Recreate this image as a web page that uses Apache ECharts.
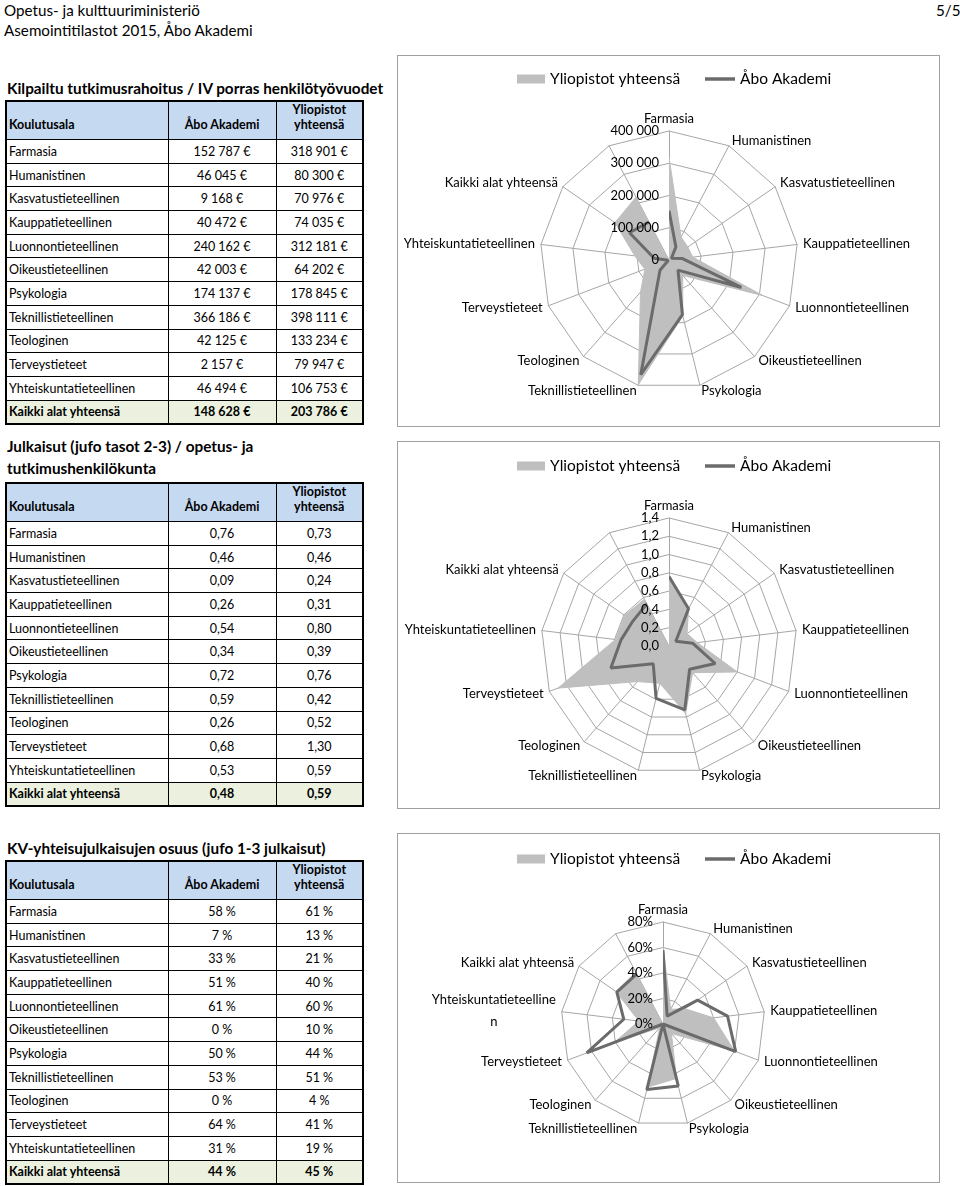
<!DOCTYPE html>
<html>
<head>
<meta charset="utf-8">
<script src="https://cdn.jsdelivr.net/npm/echarts@6/dist/echarts.min.js"></script>
<style>
  html,body{margin:0;padding:0;background:#fff;}
  body{position:relative;width:960px;height:1186px;overflow:hidden;font-family:Lato,"Open Sans",sans-serif;color:#000;}
  .hdr{position:absolute;font-size:15.2px;line-height:20px;white-space:nowrap;}
  .ttl{position:absolute;left:7px;font-size:15.3px;font-weight:bold;line-height:22px;white-space:nowrap;}
  table.t{position:absolute;left:5px;width:357px;border-collapse:collapse;table-layout:fixed;font-size:12.5px;border:2px solid #000;}
  table.t td{border:1px solid #000;padding:0 2px;white-space:nowrap;overflow:hidden;line-height:15px;}
  table.t tr.h td{background:#c5d9f1;font-weight:bold;vertical-align:bottom;padding-top:0;padding-bottom:7px;line-height:15px;}
  table.t tr.h td.c{text-align:center;}
  table.t td.n{text-align:center;}
  table.t tr.tot td{background:#ebf1de;font-weight:bold;}
  .box{position:absolute;left:397px;width:543px;border:1px solid #a0a0a0;box-sizing:border-box;}
</style>
</head>
<body>
<div class="hdr" style="left:4px;top:0px;">Opetus- ja kulttuuriministeriö</div>
<div class="hdr" style="left:4px;top:20px;">Asemointitilastot 2015, Åbo Akademi</div>
<div class="hdr" style="left:936px;top:0px;">5/5</div>

<div class="ttl" style="top:77px;">Kilpailtu tutkimusrahoitus / IV porras henkilötyövuodet</div>
<table class="t" id="t1" style="top:100px;"></table>

<div class="ttl" style="top:435px;">Julkaisut (jufo tasot 2-3) / opetus- ja<br>tutkimushenkilökunta</div>
<table class="t" id="t2" style="top:482px;"></table>

<div class="ttl" style="top:837px;">KV-yhteisujulkaisujen osuus (jufo 1-3 julkaisut)</div>
<table class="t" id="t3" style="top:860px;"></table>

<div class="box" id="c1" style="top:55px;height:372px;"></div>
<div class="box" id="c2" style="top:441px;height:368px;"></div>
<div class="box" id="c3" style="top:833px;height:350px;"></div>

<script>
// ---- Data ----
const fields = ['Farmasia','Humanistinen','Kasvatustieteellinen','Kauppatieteellinen','Luonnontieteellinen','Oikeustieteellinen','Psykologia','Teknillistieteellinen','Teologinen','Terveystieteet','Yhteiskuntatieteellinen','Kaikki alat yhteensä'];
const seriesNames = ['Yliopistot yhteensä','Åbo Akademi'];
const colHeaders = ['Koulutusala','Åbo Akademi','Yliopistot yhteensä'];

const fundingAbo = [152787,46045,9168,40472,240162,42003,174137,366186,42125,2157,46494,148628];
const fundingAll = [318901,80300,70976,74035,312181,64202,178845,398111,133234,79947,106753,203786];
const fundingTicks = [0,100000,200000,300000,400000];

const pubsAbo = [0.76,0.46,0.09,0.26,0.54,0.34,0.72,0.59,0.26,0.68,0.53,0.48];
const pubsAll = [0.73,0.46,0.24,0.31,0.80,0.39,0.76,0.42,0.52,1.30,0.59,0.59];
const pubsTicks = [0,0.2,0.4,0.6,0.8,1.0,1.2,1.4];

const intlAbo = [58,7,33,51,61,0,50,53,0,64,31,44];
const intlAll = [61,13,21,40,60,10,44,51,4,41,19,45];
const intlTicks = [0,20,40,60,80];

// ---- Formatting ----
const thou = v => String(Math.round(v)).replace(/\B(?=(\d{3})+(?!\d))/g, ' ');
const fmtEuro = v => thou(v) + ' €';
const fmtDec2 = v => v.toFixed(2).replace('.', ',');
const fmtDec1 = v => v.toFixed(1).replace('.', ',');
const fmtPct = v => v + ' %';

// ---- Tables ----
function buildTable(id, abo, all, fmt) {
  const t = document.getElementById(id);
  let h = '<colgroup><col style="width:162px"><col style="width:108px"><col style="width:87px"></colgroup>';
  h += '<tr class="h" style="height:37px"><td>' + colHeaders[0] + '</td><td class="c">' + colHeaders[1] +
       '</td><td class="c">Yliopistot<br>yhteensä</td></tr>';
  fields.forEach((f, i) => {
    const tot = i === fields.length - 1;
    h += '<tr' + (tot ? ' class="tot"' : '') + ' style="height:23.7px"><td>' + f + '</td><td class="n">' +
         fmt(abo[i]) + '</td><td class="n">' + fmt(all[i]) + '</td></tr>';
  });
  t.innerHTML = h;
}
buildTable('t1', fundingAbo, fundingAll, fmtEuro);
buildTable('t2', pubsAbo, pubsAll, fmtDec2);
buildTable('t3', intlAbo, intlAll, fmtPct);

// ---- Charts ----
const FONT = 'Lato';
const GRID = '#a6a6a6';
const FILL = '#bfbfbf';
const LINE = '#6b6b6b';

function makeChart(id, abo, all, ticks, tickFmt, cx, cy, R, legendTop, nameFmt, nameRich) {
  const el = document.getElementById(id);
  const chart = echarts.init(el, null, {renderer: 'canvas'});
  const cats = fields.concat(['']);              // blank 13th spoke as in the original
  const max = ticks[ticks.length - 1];
  const interval = ticks[1] - ticks[0];
  // radar places indicators counter-clockwise: reorder so they run clockwise
  const ordered = [cats[0]].concat(cats.slice(1).reverse());
  const indicator = ordered.map(n => ({name: n, min: 0, max: max}));
  const closed = vals => vals.map((v, i) => [v, i]).concat([[vals[0], 0]]);
  const legendText = {fontSize: 15.5, color: '#000', fontFamily: FONT};
  chart.setOption({
    animation: false,
    textStyle: {fontFamily: FONT},
    legend: [
      {left: 119, top: legendTop, padding: 0, itemWidth: 28, itemHeight: 9, textStyle: legendText,
       data: [{name: seriesNames[0], icon: 'rect'}]},
      {left: 307, top: legendTop, padding: 0, itemWidth: 30, itemHeight: 3.5, textStyle: legendText,
       data: [{name: seriesNames[1], icon: 'rect'}]}
    ],
    radar: {
      center: [cx, cy], radius: R, startAngle: 90, shape: 'polygon',
      splitNumber: ticks.length - 1, indicator: indicator, nameGap: 6,
      axisName: {color: '#000', fontSize: 13, fontFamily: FONT, formatter: nameFmt || (n => n), rich: nameRich || {}},
      axisLine: {lineStyle: {color: GRID, width: 1}},
      splitLine: {lineStyle: {color: GRID, width: 1}},
      splitArea: {show: false}, axisTick: {show: false}, axisLabel: {show: false}
    },
    polar: {center: [cx, cy], radius: R},
    angleAxis: {
      type: 'category', data: cats, startAngle: 90, clockwise: true, boundaryGap: false,
      axisLine: {show: false}, axisTick: {show: false}, axisLabel: {show: false}, splitLine: {show: false}
    },
    radiusAxis: {
      type: 'value', min: 0, max: max, interval: interval,
      axisLine: {show: false}, axisTick: {show: false}, splitLine: {show: false},
      axisLabel: {color: '#000', fontSize: 13, fontFamily: FONT, margin: 10, formatter: tickFmt}, z: 10
    },
    series: [
      {name: seriesNames[0], type: 'line', coordinateSystem: 'polar', data: closed(all), symbol: 'none',
       itemStyle: {color: FILL}, lineStyle: {color: FILL, width: 1}, areaStyle: {color: FILL, opacity: 1}, z: 2, clip: false},
      {name: seriesNames[1], type: 'line', coordinateSystem: 'polar', data: closed(abo), symbol: 'none',
       itemStyle: {color: LINE}, lineStyle: {color: LINE, width: 3}, z: 3, clip: false}
    ]
  });
}

makeChart('c1', fundingAbo, fundingAll, fundingTicks, v => thou(v), 271, 204, 129, 15);
makeChart('c2', pubsAbo, pubsAll, pubsTicks, v => fmtDec1(v), 271, 204, 128, 16);
makeChart('c3', intlAbo, intlAll, intlTicks, v => v + '%', 265, 190, 102, 17,
          n => n === 'Yhteiskuntatieteellinen' ? '{c|Yhteiskuntatieteelline}\n{c|n}' : n,
          {c: {width: 124, align: 'center', fontSize: 13, fontFamily: FONT, color: '#000', lineHeight: 22}});
</script>
</body>
</html>
